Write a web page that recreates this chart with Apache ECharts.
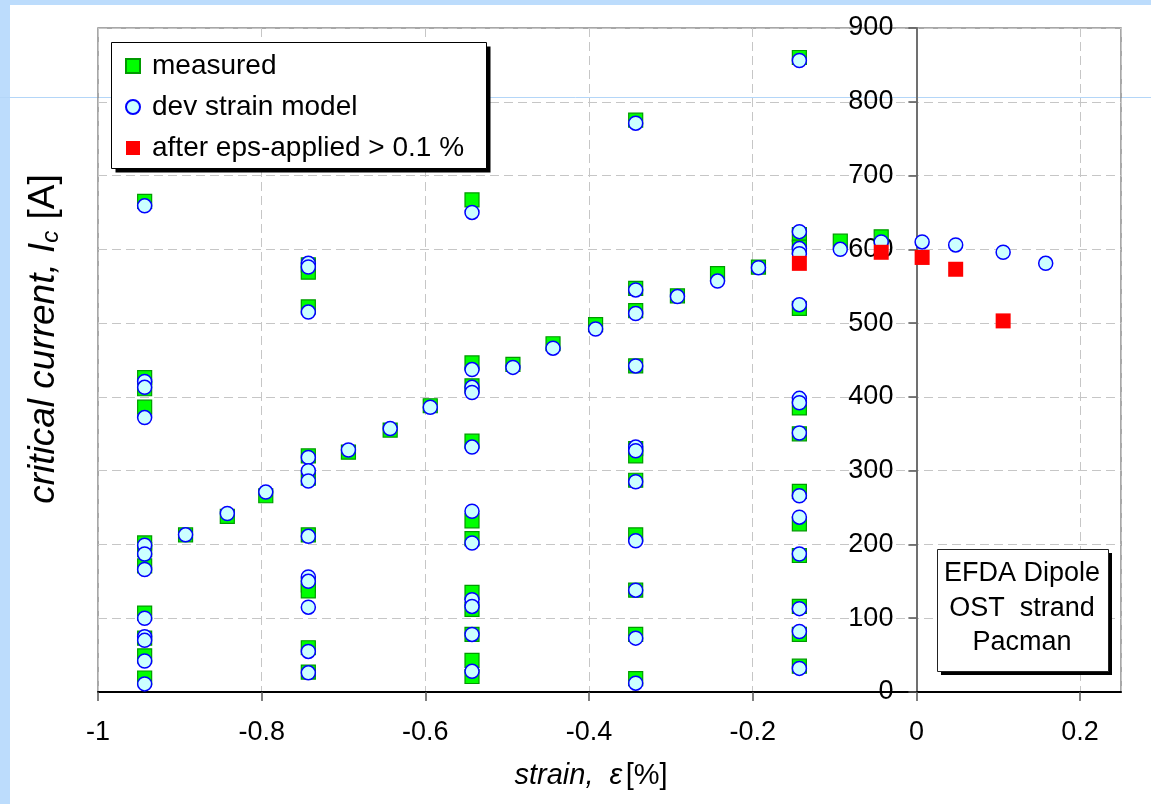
<!DOCTYPE html>
<html><head><meta charset="utf-8">
<script src="https://cdn.jsdelivr.net/npm/echarts@6/dist/echarts.min.js"></script>
<style>html,body{margin:0;padding:0;background:#fff}#c{width:1151px;height:804px}</style>
</head><body><div id="c"></div>
<script>
// strain [%], critical current [A]
const measured = [
 [-0.943,665],[-0.943,426],[-0.943,411],[-0.943,386],[-0.943,202],[-0.943,193],[-0.943,171],[-0.943,107],[-0.943,73],[-0.943,49],[-0.943,19],
 [-0.893,213],[-0.842,238],[-0.795,266],
 [-0.743,579],[-0.743,569],[-0.743,522],[-0.743,320],[-0.743,290],[-0.743,213],[-0.743,145],[-0.743,137],[-0.743,60],[-0.743,27],
 [-0.694,325],[-0.643,355],[-0.594,388],
 [-0.543,667],[-0.543,446],[-0.543,415],[-0.543,340],[-0.543,232],[-0.543,208],[-0.543,135],[-0.543,112],[-0.543,78],[-0.543,43],[-0.543,21],
 [-0.493,444],[-0.444,472],[-0.392,498],
 [-0.343,775],[-0.343,547],[-0.343,517],[-0.343,442],[-0.343,330],[-0.343,320],[-0.343,287],[-0.343,213],[-0.343,138],[-0.343,78],[-0.343,18],
 [-0.292,537],[-0.243,567],[-0.193,576],
 [-0.143,860],[-0.143,620],[-0.143,603],[-0.143,520],[-0.143,385],[-0.143,350],[-0.143,272],[-0.143,228],[-0.143,185],[-0.143,116],[-0.143,78],[-0.143,35],
 [-0.093,611],[-0.043,617]
];
const model = [
 [-0.943,659],[-0.943,421],[-0.943,413],[-0.943,372],[-0.943,199],[-0.943,187],[-0.943,166],[-0.943,100],[-0.943,75],[-0.943,70],[-0.943,42],[-0.943,11],
 [-0.893,213],[-0.842,242],[-0.795,271],
 [-0.743,581],[-0.743,576],[-0.743,515],[-0.743,318],[-0.743,300],[-0.743,286],[-0.743,211],[-0.743,156],[-0.743,150],[-0.743,115],[-0.743,55],[-0.743,26],
 [-0.694,328],[-0.643,357],[-0.594,386],
 [-0.543,650],[-0.543,437],[-0.543,413],[-0.543,406],[-0.543,332],[-0.543,245],[-0.543,202],[-0.543,125],[-0.543,116],[-0.543,78],[-0.543,28],
 [-0.493,440],[-0.444,466],[-0.392,492],
 [-0.343,771],[-0.343,545],[-0.343,513],[-0.343,442],[-0.343,332],[-0.343,327],[-0.343,285],[-0.343,205],[-0.343,138],[-0.343,73],[-0.343,12],
 [-0.292,536],[-0.243,557],[-0.193,575],
 [-0.143,856],[-0.143,624],[-0.143,601],[-0.143,594],[-0.143,525],[-0.143,398],[-0.143,392],[-0.143,351],[-0.143,266],[-0.143,237],[-0.143,187],[-0.143,113],[-0.143,82],[-0.143,32],
 [-0.093,600],[-0.043,610],[0.007,610],[0.048,606],[0.106,596],[0.158,581]
];
const afterApplied = [[-0.143,581],[-0.043,596],[0.007,589],[0.048,573],[0.106,503]];
const seriesNames = ['measured','dev strain model','after eps-applied > 0.1 %'];
const boxLines = ['EFDA Dipole','OST  strand','Pacman'];

const FONT = 'Liberation Sans';
const X_MIN = -1, X_MAX = 0.25;
const GRID = {left:98, right:30, top:28, bottom:112};
const plotW = 1151 - GRID.left - GRID.right;
// place the y axis at strain = 0
const yAxisOffset = -plotW * (0 - X_MIN) / (X_MAX - X_MIN);

const chart = echarts.init(document.getElementById('c'), null, {renderer:'canvas'});
const dash = {color:'#c6c6c6', width:1, type:[9,5]};
const t = (txt, x, y) => ({type:'text', z:22, x, y, style:{text:txt, font:'27px "Liberation Sans"', fill:'#000', align:'center', verticalAlign:'middle'}});
chart.setOption({
  animation:false,
  backgroundColor:'#fff',
  textStyle:{fontFamily:FONT},
  grid:Object.assign({show:true, borderColor:'#8a8a8a', borderWidth:1.5}, GRID),
  xAxis:{type:'value', min:X_MIN, max:X_MAX, interval:0.2,
    axisLine:{onZero:false, lineStyle:{color:'#000', width:2}},
    axisTick:{length:9, lineStyle:{color:'#555', width:1.5}},
    axisLabel:{fontSize:27, color:'#000', margin:27, showMaxLabel:false, fontFamily:FONT,
      formatter:v=>String(+v.toFixed(2))},
    splitLine:{show:true, lineStyle:dash}},
  yAxis:{type:'value', min:0, max:900, interval:100, position:'left', offset:yAxisOffset,
    axisLine:{show:true, onZero:false, lineStyle:{color:'#707070', width:2}},
    axisTick:{show:true, length:8, lineStyle:{color:'#555', width:1.5}},
    axisLabel:{fontSize:27, color:'#000', margin:23, fontFamily:FONT},
    splitLine:{show:true, lineStyle:dash}},
  legend:{left:111, top:44, orient:'vertical', padding:[8,10,8,14], itemGap:13,
    itemWidth:14, itemHeight:14,
    textStyle:{fontSize:28, color:'#000', fontFamily:FONT, padding:[0,0,0,7]},
    data:seriesNames, z:30},
  graphic:[
    {type:'rect', z:-10, shape:{x:0,y:0,width:1151,height:5}, style:{fill:'#bcdcfc'}},
    {type:'rect', z:-10, shape:{x:0,y:0,width:10,height:804}, style:{fill:'#bcdcfc'}},
    {type:'line', z:-10, shape:{x1:0,y1:97.5,x2:1151,y2:97.5}, style:{stroke:'#b4d6f8', lineWidth:1}},
    {type:'rect', z:20, shape:{x:115.5,y:46.5,width:375,height:126}, style:{fill:'#000'}},
    {type:'rect', z:21, shape:{x:111.5,y:42.5,width:375,height:126}, style:{fill:'#fff', stroke:'#000', lineWidth:1}},
    {type:'rect', z:20, shape:{x:941,y:553,width:171,height:122}, style:{fill:'#000'}},
    {type:'rect', z:21, shape:{x:937.5,y:549.5,width:171,height:122}, style:{fill:'#fff', stroke:'#222', lineWidth:1}},
    t(boxLines[0], 1022, 574), t(boxLines[1], 1022, 609), t(boxLines[2], 1022, 643),
    {type:'text', z:22, x:591, y:776, style:{text:'{i|strain,  ε} {n|[%]}', align:'center', verticalAlign:'middle',
      rich:{i:{fontSize:29, fontStyle:'italic', fontFamily:FONT, fill:'#000'}, n:{fontSize:29, fontFamily:FONT, fill:'#000'}}}},
    {type:'text', z:22, x:44, y:339, rotation:Math.PI/2, style:{text:'{i|critical current, I}{s|c}{n| [A]}', align:'center', verticalAlign:'middle',
      rich:{i:{fontSize:37, fontStyle:'italic', fontFamily:FONT, fill:'#000'}, s:{fontSize:24, fontStyle:'italic', fontFamily:FONT, fill:'#000', padding:[15,1,0,0]}, n:{fontSize:37, fontFamily:FONT, fill:'#000'}}}}
  ],
  series:[
    {type:'scatter', name:seriesNames[0], symbol:'rect', symbolSize:14, z:2, data:measured,
      itemStyle:{color:'#00ff00', borderColor:'#009a00', borderWidth:1.2, opacity:1}, emphasis:{disabled:true}},
    {type:'scatter', name:seriesNames[1], symbol:'circle', symbolSize:14, z:3, data:model,
      itemStyle:{color:'#ccffff', borderColor:'#0000ff', borderWidth:1.5, opacity:1}, emphasis:{disabled:true}},
    {type:'scatter', name:seriesNames[2], symbol:'rect', symbolSize:15, z:4, data:afterApplied,
      itemStyle:{color:'#ff0000', opacity:1}, emphasis:{disabled:true}}
  ]
});
</script></body></html>
